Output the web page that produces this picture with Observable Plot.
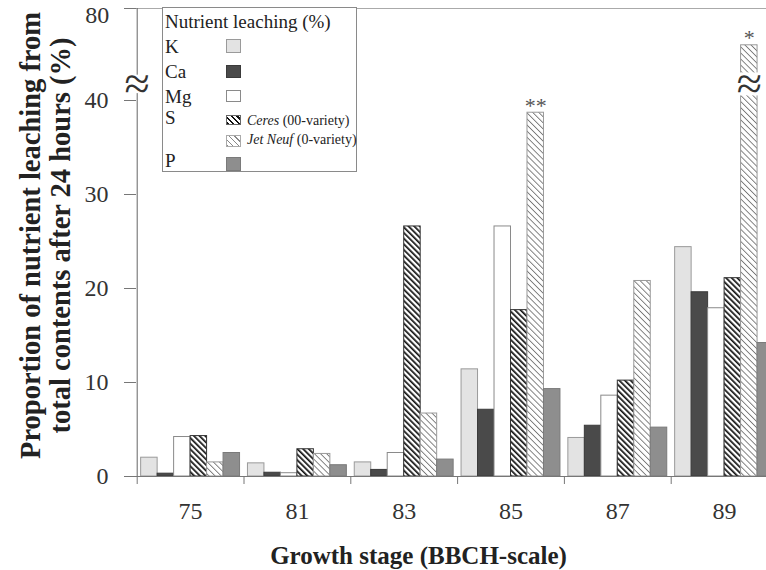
<!DOCTYPE html>
<html><head><meta charset="utf-8">
<script src="https://cdn.jsdelivr.net/npm/d3@7"></script>
<script src="https://cdn.jsdelivr.net/npm/@observablehq/plot@0.6"></script>
<style>
body{margin:0;background:#fff;overflow:hidden;}
#wrap{position:relative;width:766px;height:570px;overflow:hidden;font-family:"Liberation Serif",serif;}
#legend{position:absolute;left:162px;top:7px;width:193px;height:163px;border:1px solid #8a8a8a;background:#fff;color:#222;}
.row{position:absolute;left:2px;font-size:19px;line-height:20px;height:20px;white-space:nowrap;}
.sw{position:absolute;left:63px;width:15px;box-sizing:border-box;}
.sub{position:absolute;left:84px;font-size:14px;line-height:16px;white-space:nowrap;}
</style></head>
<body>
<div id="wrap">
<div id="chart"></div>
<div id="legend">
  <div class="row" style="top:4px">Nutrient leaching (%)</div>
  <div class="row" style="top:29px">K</div>
  <div class="row" style="top:54px">Ca</div>
  <div class="row" style="top:79px">Mg</div>
  <div class="row" style="top:100px">S</div>
  <div class="row" style="top:143px">P</div>
  <div class="sw" style="top:31px;height:14px;background:#e3e3e3;border:1px solid #9a9a9a"></div>
  <div class="sw" style="top:57px;height:13px;background:#4a4a4a;border:1px solid #3a3a3a"></div>
  <div class="sw" style="top:82px;height:12px;background:#fff;border:1px solid #8a8a8a"></div>
  <div class="sw" style="top:107px;height:10px;background:repeating-linear-gradient(45deg,#111 0 1.5px,#fff 1.5px 4px);border:1px solid #666"></div>
  <div class="sw" style="top:127px;height:12px;background:repeating-linear-gradient(45deg,#888 0 0.9px,#fff 0.9px 4px);border:1px solid #aaa"></div>
  <div class="sw" style="top:149px;height:14px;background:#8e8e8e;border:1px solid #7a7a7a"></div>
  <div class="sub" style="top:105px"><i>Ceres</i> (00-variety)</div>
  <div class="sub" style="top:124px"><i>Jet Neuf</i> (0-variety)</div>
</div>
</div>
<script>
const stages = ["75", "81", "83", "85", "87", "89"];
const seriesNames = ["K", "Ca", "Mg", "S Ceres", "S Jet Neuf", "P"];
const K        = [2.0, 1.4, 1.5, 11.4, 4.1, 24.4];
const Ca       = [0.3, 0.4, 0.7, 7.1, 5.4, 19.6];
const Mg       = [4.2, 0.35, 2.5, 26.6, 8.6, 17.9];
const SCeres   = [4.3, 2.9, 26.6, 17.7, 10.2, 21.1];
const SJetNeuf = [1.5, 2.4, 6.7, 38.7, 20.8, 64];
const P        = [2.5, 1.2, 1.8, 9.3, 5.2, 14.2];
const yTicks = [0, 10, 20, 30, 40, 80];
const yTopTick = 80;
const stars = [{stage: "85", label: "**"}, {stage: "89", label: "*"}];

const seriesValues = [K, Ca, Mg, SCeres, SJetNeuf, P];
const fills = {"K": "#e3e3e3", "Ca": "#4a4a4a", "Mg": "#ffffff", "S Ceres": "url(#ceres)", "S Jet Neuf": "url(#jet)", "P": "#8e8e8e"};
const strokes = {"K": "#9a9a9a", "Ca": "#3a3a3a", "Mg": "#8a8a8a", "S Ceres": "#333", "S Jet Neuf": "#999", "P": "#7a7a7a"};

const pad = 0.037, bw = (1 - 2 * pad) / seriesNames.length;
const rows = [];
seriesValues.forEach((vals, si) => vals.forEach((v, gi) => rows.push({
  stage: stages[gi], series: seriesNames[si], value: v,
  x1: gi + pad + si * bw, x2: gi + pad + (si + 1) * bw
})));
const broken = rows.filter(d => d.value > 40);
const starRows = stars.map(s => ({...rows.find(d => d.stage === s.stage && d.series === "S Jet Neuf"), label: s.label}));
const boundaries = stages.map((d, i) => i).concat([stages.length]);

const chart = Plot.plot({
  width: 766, height: 570,
  marginLeft: 136, marginRight: 0, marginTop: 8, marginBottom: 94,
  style: {fontFamily: "'Liberation Serif', serif", background: "white", color: "#222"},
  x: {type: "linear", domain: [0, stages.length], range: [136.7, 777.5]},
  y: {type: "linear", domain: [0, 40, 80], range: [476, 100, 8]},
  marks: [
    ...seriesNames.map(s => Plot.rectY(rows.filter(d => d.series === s), {
      x1: "x1", x2: "x2", y1: 0, y2: "value", fill: fills[s], stroke: strokes[s], strokeWidth: 1
    })),
    Plot.rectY(broken, {x1: d => d.x1 - 0.02, x2: d => d.x2 + 0.02, y1: 42, y2: 52, fill: "white"}),
    Plot.text(broken, {x: d => (d.x1 + d.x2) / 2, y: 47, text: () => "≈", fontSize: 46, fill: "#333"}),
    Plot.text(starRows, {x: d => (d.x1 + d.x2) / 2, y: "value", text: "label", lineAnchor: "bottom", fontSize: 22, fill: "#555"}),
    Plot.ruleY([80], {stroke: "#aaa"}),
    Plot.ruleY([0], {stroke: "#777"}),
    Plot.ruleX([{y1: 0, y2: 43}, {y1: 51, y2: 80}], {x: () => 0, y1: "y1", y2: "y2", stroke: "#666"}),
    Plot.text([47], {x: () => 0, y: d => d, text: () => "≈", fontSize: 46, fill: "#333"}),
    Plot.axisY({ticks: yTicks, tickSize: 12, tickPadding: 16, fontSize: 24, stroke: "#777", fill: "#333", label: null,
      tickFormat: d => d === yTopTick ? "" : String(d)}),
    Plot.text([yTopTick], {x: () => 0, y: d => d, text: d => String(d), textAnchor: "end", lineAnchor: "middle",
      dx: -28, dy: 7, fontSize: 24, fill: "#333"}),
    Plot.axisX({ticks: boundaries, tickSize: 8, tickFormat: () => "", stroke: "#777", label: null}),
    Plot.text(stages, {x: (d, i) => i + 0.5, y: () => 0, dy: 35, text: d => d, fontSize: 24, fill: "#333"}),
    Plot.text(["Proportion of nutrient leaching from\ntotal contents after 24 hours (%)"], {
      frameAnchor: "left", textAnchor: "middle", lineAnchor: "middle", rotate: -90, dx: -91, dy: -7,
      fontSize: 28.5, fontWeight: "bold", lineHeight: 1.05, fill: "#222"
    }),
    Plot.text(["Growth stage (BBCH-scale)"], {
      frameAnchor: "bottom", textAnchor: "middle", lineAnchor: "middle", dx: -33, dy: 79,
      fontSize: 25, fontWeight: "bold", fill: "#222"
    })
  ]
});

const defs = d3.select(chart).insert("defs", ":first-child");
const ceres = defs.append("pattern").attr("id", "ceres").attr("patternUnits", "userSpaceOnUse")
  .attr("width", 4).attr("height", 10).attr("patternTransform", "rotate(-45)");
ceres.append("rect").attr("width", 4).attr("height", 10).attr("fill", "#fff");
ceres.append("rect").attr("width", 1.7).attr("height", 10).attr("fill", "#111");
const jet = defs.append("pattern").attr("id", "jet").attr("patternUnits", "userSpaceOnUse")
  .attr("width", 4.3).attr("height", 10).attr("patternTransform", "rotate(-45)");
jet.append("rect").attr("width", 4.3).attr("height", 10).attr("fill", "#fff");
jet.append("rect").attr("width", 0.9).attr("height", 10).attr("fill", "#777");

document.getElementById("chart").appendChild(chart);
</script>
</body></html>
